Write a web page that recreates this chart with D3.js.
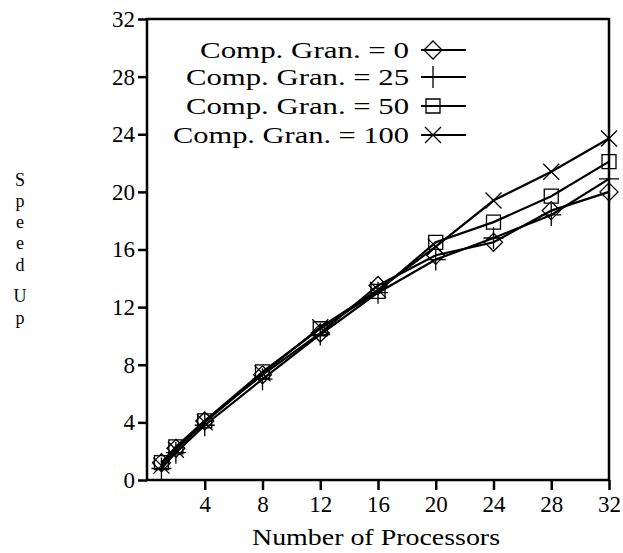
<!DOCTYPE html>
<html>
<head>
<meta charset="utf-8">
<script src="https://cdn.jsdelivr.net/npm/d3@7"></script>
<style>
  body { margin: 0; background: #fff; }
  text { font-family: "Liberation Serif", serif; fill: #000; }
</style>
</head>
<body>
<svg width="623" height="553"></svg>
<script>
let width = 623, height = 553;

// data
let processors = [1, 2, 4, 8, 12, 16, 20, 24, 28, 32];
let gran0   = [1.2, 2.2, 4.1, 7.3, 10.2, 13.5, 15.6, 16.5, 18.7, 20.0];
let gran25  = [0.8, 1.9, 3.8, 7.0, 10.1, 13.0, 15.3, 16.8, 18.4, 20.9];
let gran50  = [1.2, 2.3, 4.1, 7.5, 10.5, 13.1, 16.5, 17.9, 19.7, 22.1];
let gran100 = [1.0, 2.1, 4.0, 7.4, 10.6, 13.2, 16.2, 19.4, 21.4, 23.7];
let seriesNames = ["Comp. Gran. = 0", "Comp. Gran. = 25", "Comp. Gran. = 50", "Comp. Gran. = 100"];
let markers = ["diamond", "plus", "square", "cross"];
let xTicks = [4, 8, 12, 16, 20, 24, 28, 32];
let yTicks = [0, 4, 8, 12, 16, 20, 24, 28, 32];

let series = [gran0, gran25, gran50, gran100].map((vals, i) => ({
    name: seriesNames[i],
    marker: markers[i],
    values: vals.map((v, j) => ({ p: processors[j], s: v }))
}));

let svg = d3.select("svg");

let margin = { left: 147, right: 14, top: 19, bottom: 73 };

let x = d3.scaleLinear().domain([0, 32]).range([margin.left, width - margin.right]);
let y = d3.scaleLinear().domain([0, 32]).range([height - margin.bottom, margin.top]);

// frame
svg.append("rect")
    .attr("x", x(0)).attr("y", y(32))
    .attr("width", x(32) - x(0)).attr("height", y(0) - y(32))
    .attr("fill", "none").attr("stroke", "#000").attr("stroke-width", 2.5);

// axes
let xAxis = svg.append("g")
    .attr("transform", "translate(0," + y(0) + ")")
    .call(d3.axisBottom(x).tickValues(xTicks).tickSize(10).tickPadding(6).tickSizeOuter(0));
let yAxis = svg.append("g")
    .attr("transform", "translate(" + x(0) + ",0)")
    .call(d3.axisLeft(y).tickValues(yTicks).tickSize(9).tickPadding(3).tickSizeOuter(0));

[xAxis, yAxis].forEach(a => {
    a.select(".domain").remove();
    a.selectAll("line").attr("stroke", "#000").attr("stroke-width", 2.5);
    a.selectAll("text").style("font-family", "Liberation Serif").style("font-size", "23px").attr("fill", "#000");
});

// axis titles
svg.append("text")
    .attr("x", 376).attr("y", 545)
    .attr("text-anchor", "middle")
    .attr("textLength", 248).attr("lengthAdjust", "spacingAndGlyphs")
    .style("font-size", "24px")
    .text("Number of Processors");

// "Speed Up" stacked one letter per line
let yLetters = ["S", "p", "e", "e", "d", "U", "p"];
let yLetterBase = [186, 207, 228, 249, 271, 302, 324];
svg.append("g").selectAll("text")
    .data(yLetters)
    .enter()
    .append("text")
    .attr("x", 20)
    .attr("y", (d, i) => yLetterBase[i])
    .attr("text-anchor", "middle")
    .style("font-size", "18px")
    .text(d => d);

// marker shapes
function drawMarker(g, type) {
    if (type == "diamond") {
        g.append("path").attr("d", "M0,-9L9,0L0,9L-9,0Z");
    } else if (type == "plus") {
        g.append("path").attr("d", "M0,-11V11M-10,0H10");
    } else if (type == "square") {
        g.append("path").attr("d", "M-7,-7H7V7H-7Z");
    } else {
        g.append("path").attr("d", "M-8,-8L8,8M-8,8L8,-8");
    }
    g.selectAll("path").attr("fill", "none").attr("stroke", "#000").attr("stroke-width", 1.3);
}

let line = d3.line().x(d => x(d.p)).y(d => y(d.s));

let sg = svg.append("g").selectAll("g")
    .data(series)
    .enter()
    .append("g");

sg.append("path")
    .attr("d", d => line(d.values))
    .attr("fill", "none")
    .attr("stroke", "#000")
    .attr("stroke-width", 2.2);

sg.each(function (s) {
    d3.select(this).selectAll(".mk")
        .data(s.values)
        .enter()
        .append("g")
        .attr("class", "mk")
        .attr("transform", d => "translate(" + x(d.p) + "," + y(d.s) + ")")
        .each(function () { drawMarker(d3.select(this), s.marker); });
});

// legend
let legendRowY = [50, 77, 106, 135];
let legendWidths = [209, 223, 223, 236];
let legend = svg.append("g").selectAll("g")
    .data(series)
    .enter()
    .append("g")
    .attr("transform", (d, i) => "translate(0," + legendRowY[i] + ")");

legend.append("text")
    .attr("x", 409).attr("y", 8)
    .attr("text-anchor", "end")
    .attr("textLength", (d, i) => legendWidths[i])
    .attr("lengthAdjust", "spacingAndGlyphs")
    .style("font-size", "24px")
    .text(d => d.name);

legend.append("line")
    .attr("x1", 421).attr("x2", 466)
    .attr("stroke", "#000").attr("stroke-width", 2.2);

legend.append("g")
    .attr("transform", "translate(433,0)")
    .each(function (d) { drawMarker(d3.select(this), d.marker); });
</script>
</body>
</html>
